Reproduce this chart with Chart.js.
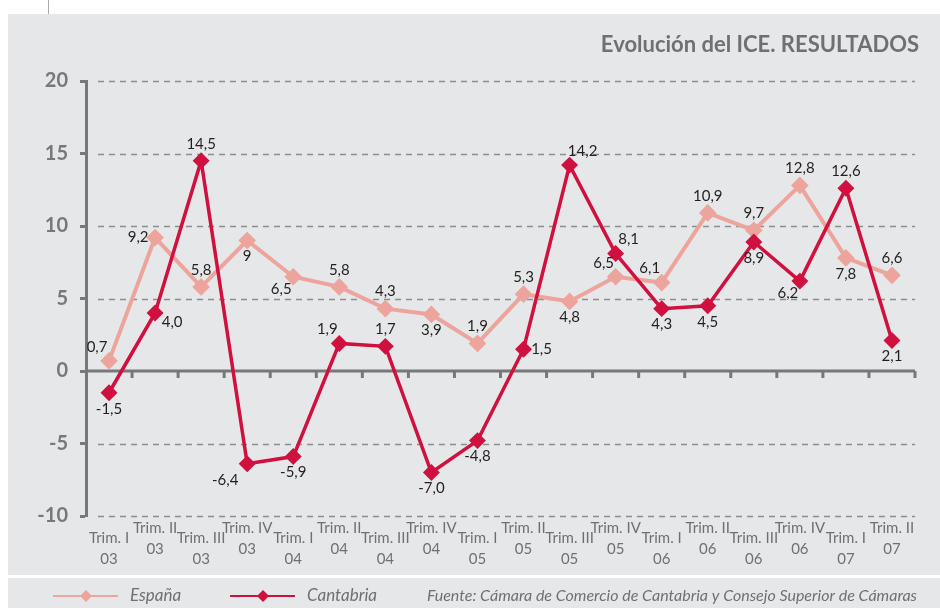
<!DOCTYPE html>
<html>
<head>
<meta charset="utf-8">
<script src="https://cdn.jsdelivr.net/npm/chart.js@4.4.0/dist/chart.umd.min.js"></script>
<style>
  body { margin: 0; background: #fff; }
  #wrap { width: 940px; height: 608px; position: relative; }
</style>
</head>
<body>
<div id="wrap"><canvas id="chart"></canvas></div>
<script>
const quarters = ['Trim. I', 'Trim. II', 'Trim. III', 'Trim. IV', 'Trim. I', 'Trim. II', 'Trim. III', 'Trim. IV', 'Trim. I',
                  'Trim. II', 'Trim. III', 'Trim. IV', 'Trim. I', 'Trim. II', 'Trim. III', 'Trim. IV', 'Trim. I', 'Trim. II'];
const years = ['03', '03', '03', '03', '04', '04', '04', '04', '05', '05', '05', '05', '06', '06', '06', '06', '07', '07'];

const espana = [0.7, 9.2, 5.8, 9, 6.5, 5.8, 4.3, 3.9, 1.9, 5.3, 4.8, 6.5, 6.1, 10.9, 9.7, 12.8, 7.8, 6.6];
const cantabria = [-1.5, 4.0, 14.5, -6.4, -5.9, 1.9, 1.7, -7.0, -4.8, 1.5, 14.2, 8.1, 4.3, 4.5, 8.9, 6.2, 12.6, 2.1];

const espanaText = ['0,7', '9,2', '5,8', '9', '6,5', '5,8', '4,3', '3,9', '1,9', '5,3', '4,8', '6,5', '6,1', '10,9', '9,7', '12,8', '7,8', '6,6'];
const cantabriaText = ['-1,5', '4,0', '14,5', '-6,4', '-5,9', '1,9', '1,7', '-7,0', '-4,8', '1,5', '14,2', '8,1', '4,3', '4,5', '8,9', '6,2', '12,6', '2,1'];

const yTicks = [-10, -5, 0, 5, 10, 15, 20];

// where each value label sits around its point
const espanaAnchor = ['nw', 'w', 'n', 's', 'sw', 'n', 'n', 's', 'n', 'n', 's', 'nw', 'nw', 'n', 'n', 'n', 's', 'n'];
const cantabriaAnchor = ['s', 'se', 'n', 'sw2', 's', 'nw', 'n', 's', 's', 'e', 'ne', 'ne', 's', 's', 's', 'sw', 'n', 's'];
const anchorOffsets = {
  n: [0, -17], s: [0, 16], w: [-17, 0], e: [18, 0],
  nw: [-12, -14], ne: [13, -14], sw: [-12, 12], sw2: [-22, 16], se: [17, 9]
};

const GREY = '#6f7072';
const AXIS = '#77787a';
const PANEL = '#e6e7e8';

const backgroundPlugin = {
  id: 'background',
  beforeDraw(chart) {
    const c = chart.ctx;
    c.save();
    c.fillStyle = '#fff';
    c.fillRect(0, 0, chart.width, chart.height);
    c.fillStyle = PANEL;
    c.fillRect(8, 14, chart.width - 8, 561);
    c.fillRect(8, 578, chart.width - 8, 30);
    c.strokeStyle = '#aaa';
    c.lineWidth = 1;
    c.beginPath();
    c.moveTo(48.5, 0);
    c.lineTo(48.5, 14);
    c.stroke();

    // title
    c.fillStyle = GREY;
    c.font = 'bold 22px Lato';
    c.textAlign = 'right';
    c.textBaseline = 'alphabetic';
    c.fillText('Evolución del ICE. RESULTADOS', 919, 52);

    // dashed grid lines
    const y = chart.scales.y;
    c.strokeStyle = '#8c8d8f';
    c.lineWidth = 1.5;
    c.setLineDash([6, 5]);
    y.ticks.forEach(t => {
      if (t.value === 0) return;
      const py = Math.round(y.getPixelForValue(t.value)) + 0.5;
      c.beginPath();
      c.moveTo(98, py);
      c.lineTo(chart.chartArea.right, py);
      c.stroke();
    });
    c.setLineDash([]);

    // zero axis with tick marks
    const x = chart.scales.x;
    const y0 = y.getPixelForValue(0);
    const step = x.getPixelForValue(1) - x.getPixelForValue(0);
    c.strokeStyle = AXIS;
    c.lineWidth = 3;
    c.beginPath();
    c.moveTo(chart.chartArea.left, y0);
    c.lineTo(chart.chartArea.right, y0);
    c.stroke();
    for (let i = 1; i <= quarters.length; i++) {
      const px = x.getPixelForValue(i - 1) + step / 2;
      c.beginPath();
      c.moveTo(px, y0);
      c.lineTo(px, y0 + 7);
      c.stroke();
    }

    // category labels, staggered
    c.fillStyle = GREY;
    c.font = '15px Lato';
    c.textAlign = 'center';
    c.textBaseline = 'middle';
    const base = chart.chartArea.bottom;
    quarters.forEach((q, i) => {
      const px = x.getPixelForValue(i);
      const dy = i % 2 === 0 ? 22 : 12;
      c.fillText(q, px, base + dy);
      c.fillText(years[i], px, base + dy + 21);
    });

    // legend band
    const items = [
      { text: 'España', color: '#eda49c', x0: 53 },
      { text: 'Cantabria', color: '#d0103f', x0: 230 }
    ];
    items.forEach(it => {
      c.strokeStyle = it.color;
      c.lineWidth = 2;
      c.beginPath();
      c.moveTo(it.x0, 596);
      c.lineTo(it.x0 + 65, 596);
      c.stroke();
      c.fillStyle = it.color;
      const cx = it.x0 + 33;
      c.beginPath();
      c.moveTo(cx, 590);
      c.lineTo(cx + 6, 596);
      c.lineTo(cx, 602);
      c.lineTo(cx - 6, 596);
      c.closePath();
      c.fill();
      c.fillStyle = GREY;
      c.font = 'italic 17px Lato';
      c.textAlign = 'left';
      c.fillText(it.text, it.x0 + 77, 596);
    });
    c.font = 'italic 16px Lato';
    c.textAlign = 'right';
    c.fillText('Fuente: Cámara de Comercio de Cantabria y Consejo Superior de Cámaras', 917, 596);
    c.restore();
  }
};

const valueLabels = {
  id: 'valueLabels',
  afterDatasetsDraw(chart) {
    const c = chart.ctx;
    c.save();
    c.fillStyle = '#231f20';
    c.font = '15px Lato';
    c.textAlign = 'center';
    c.textBaseline = 'middle';
    const sets = [[espanaText, espanaAnchor], [cantabriaText, cantabriaAnchor]];
    sets.forEach(([texts, anchors], di) => {
      chart.getDatasetMeta(di).data.forEach((pt, i) => {
        const off = anchorOffsets[anchors[i]];
        c.fillText(texts[i], pt.x + off[0], pt.y + off[1]);
      });
    });
    c.restore();
  }
};

const ctx = document.getElementById('chart').getContext('2d');
new Chart(ctx, {
  type: 'line',
  data: {
    labels: quarters.map((q, i) => q + ' ' + years[i]),
    datasets: [{
      label: 'España',
      data: espana,
      borderColor: '#eda49c',
      backgroundColor: '#eda49c',
      borderWidth: 4,
      pointStyle: 'rectRot',
      pointRadius: 6,
      tension: 0,
      order: 2
    }, {
      label: 'Cantabria',
      data: cantabria,
      borderColor: '#d0103f',
      backgroundColor: '#d0103f',
      borderWidth: 3.5,
      pointStyle: 'rectRot',
      pointRadius: 6,
      tension: 0,
      order: 1
    }]
  },
  options: {
    responsive: true,
    maintainAspectRatio: false,
    animation: false,
    layout: { padding: { top: 81, right: 25, bottom: 92, left: 0 } },
    plugins: {
      legend: { display: false },
      tooltip: { enabled: false }
    },
    scales: {
      x: {
        display: false,
        offset: true
      },
      y: {
        min: -10,
        max: 20,
        afterBuildTicks: s => { s.ticks = yTicks.map(v => ({ value: v })); },
        afterFit: s => { s.width = 86; },
        ticks: {
          color: AXIS,
          font: { family: 'Lato', weight: 'bold', size: 20 },
          padding: 12
        },
        grid: {
          drawOnChartArea: false,
          drawTicks: true,
          tickLength: 6,
          tickWidth: 3,
          tickColor: AXIS
        },
        border: { display: true, color: AXIS, width: 3 }
      }
    }
  },
  plugins: [backgroundPlugin, valueLabels]
});
</script>
</body>
</html>
